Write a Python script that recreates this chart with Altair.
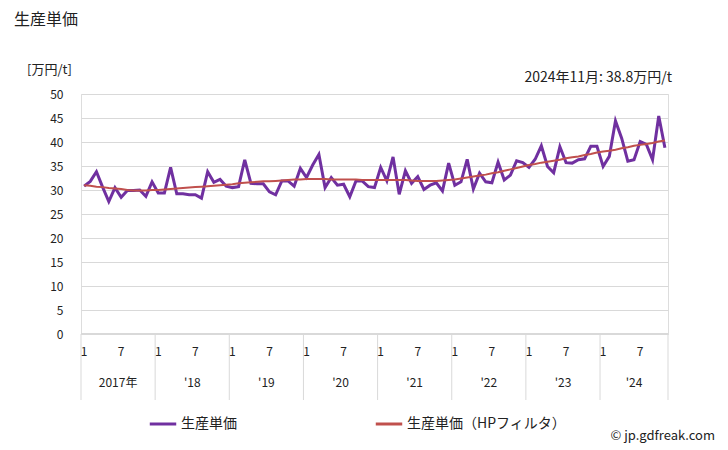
import altair as alt
import pandas as pd

# ---- data (Jan 2017 .. Nov 2024, monthly) ----
years = [2017, 2018, 2019, 2020, 2021, 2022, 2023, 2024]
year_labels = ["2017年", "'18", "'19", "'20", "'21", "'22", "'23", "'24"]
months_in_year = [12, 12, 12, 12, 12, 12, 12, 11]

price = [
    30.8, 31.8, 33.8, 30.6, 27.6, 30.5, 28.5, 29.9, 29.9, 30.0, 28.7, 31.7,   # 2017
    29.4, 29.4, 34.7, 29.2, 29.2, 29.0, 29.0, 28.3, 33.8, 31.6, 32.2, 30.8,   # 2018
    30.5, 30.7, 36.3, 31.4, 31.3, 31.3, 29.6, 29.0, 31.9, 31.9, 30.8, 34.5,   # 2019
    32.6, 35.2, 37.4, 30.5, 32.6, 31.0, 31.2, 28.6, 31.9, 31.9, 30.7, 30.5,   # 2020
    34.7, 31.9, 36.9, 29.1, 34.0, 31.4, 32.8, 30.1, 31.0, 31.5, 29.8, 35.6,   # 2021
    31.0, 31.7, 36.4, 30.2, 33.5, 31.7, 31.5, 35.8, 32.1, 33.1, 36.1, 35.7,   # 2022
    34.7, 36.4, 39.2, 34.9, 33.6, 39.0, 35.7, 35.6, 36.3, 36.5, 39.1, 39.1,   # 2023
    34.9, 37.0, 44.4, 40.8, 36.0, 36.3, 40.1, 39.5, 36.3, 45.4, 38.8,         # 2024
]
trend = [
    31.0, 30.9, 30.7, 30.6, 30.4, 30.3, 30.2, 30.0, 29.9, 29.9, 29.9, 30.0,
    30.0, 30.1, 30.2, 30.3, 30.4, 30.5, 30.6, 30.7, 30.8, 30.9, 31.0, 31.1,
    31.2, 31.4, 31.5, 31.6, 31.7, 31.8, 31.8, 31.9, 32.0, 32.1, 32.2, 32.2,
    32.3, 32.3, 32.3, 32.3, 32.2, 32.2, 32.2, 32.2, 32.2, 32.1, 32.1, 32.1,
    32.1, 32.1, 32.1, 32.1, 32.1, 32.0, 31.9, 31.9, 31.9, 31.9, 32.0, 32.1,
    32.2, 32.4, 32.6, 32.8, 33.0, 33.2, 33.5, 33.7, 34.0, 34.3, 34.6, 34.9,
    35.2, 35.4, 35.7, 35.9, 36.1, 36.3, 36.6, 36.8, 37.0, 37.3, 37.5, 37.8,
    38.0, 38.2, 38.4, 38.7, 38.9, 39.2, 39.4, 39.6, 39.8, 40.1, 40.3,
]
series_names = ["生産単価", "生産単価（HPフィルタ）"]
series_colors = ["#7030A0", "#C0504D"]
y_ticks = [0, 5, 10, 15, 20, 25, 30, 35, 40, 45, 50]
annotation = "2024年11月: 38.8万円/t"

FONT = "Noto Sans CJK JP"

# ---- build tables ----
idx = list(range(len(price)))
df_price = pd.DataFrame({"i": idx, "v": price, "s": series_names[0]})
df_trend = pd.DataFrame({"i": idx, "v": trend, "s": series_names[1]})

month_rows = []
year_rows = []
sep_rows = []
start = 0
for y, lab, n in zip(years, year_labels, months_in_year):
    for m in (1, 7):
        if m <= n:
            month_rows.append({"i": start + m - 1, "t": str(m)})
    year_rows.append({"c": start + (n - 1) / 2, "t": lab})
    sep_rows.append({"b": start - 0.5})
    start += n
sep_rows.append({"b": start - 0.5})
df_month = pd.DataFrame(month_rows)
df_year = pd.DataFrame(year_rows)
df_sep = pd.DataFrame(sep_rows)

W, H = 587, 240
xs = alt.Scale(domain=[-0.5, len(price) - 0.5], nice=False, zero=False)
ys = alt.Scale(domain=[0, 50], nice=False)
cs = alt.Scale(domain=series_names, range=series_colors)

yaxis = alt.Axis(values=y_ticks, title=None, domain=False, ticks=False,
                 grid=True, gridColor="#d9d9d9", gridWidth=1,
                 labelFont=FONT, labelFontSize=12, labelColor="#222222",
                 labelPadding=18, labelOverlap=False)

legend = alt.Legend(title=None, orient="none", direction="horizontal",
                    legendX=67, legendY=315, symbolType="stroke",
                    symbolSize=700, symbolStrokeWidth=3,
                    labelFont=FONT, labelFontSize=14, labelColor="#222222",
                    labelLimit=400, columnPadding=132, labelOffset=3)

base_price = alt.Chart(df_price).mark_line(strokeWidth=3).encode(
    x=alt.X("i:Q", scale=xs, axis=None),
    y=alt.Y("v:Q", scale=ys, axis=yaxis),
    color=alt.Color("s:N", scale=cs, legend=legend),
)
base_trend = alt.Chart(df_trend).mark_line(strokeWidth=2).encode(
    x=alt.X("i:Q", scale=xs, axis=None),
    y=alt.Y("v:Q", scale=ys, axis=yaxis),
    color=alt.Color("s:N", scale=cs, legend=legend),
)

seps = alt.Chart(df_sep).mark_rule(color="#d9d9d9", strokeWidth=1).encode(
    x=alt.X("b:Q", scale=xs), y=alt.value(H), y2=alt.value(H + 66)
)
bottom = alt.Chart(df_sep).mark_rule(color="#d9d9d9", strokeWidth=1).encode(
    x=alt.value(0), x2=alt.value(W), y=alt.value(H)
)
mlabels = alt.Chart(df_month).mark_text(font=FONT, fontSize=12, color="#222222",
                                        baseline="middle").encode(
    x=alt.X("i:Q", scale=xs), y=alt.value(H + 18), text="t:N"
)
ylabels = alt.Chart(df_year).mark_text(font=FONT, fontSize=12, color="#222222",
                                       baseline="middle").encode(
    x=alt.X("c:Q", scale=xs), y=alt.value(H + 49), text="t:N"
)

one = pd.DataFrame({"k": [0]})
title = alt.Chart(one).mark_text(text="生産単価", font=FONT, fontSize=16, color="#222222",
                                 align="left", baseline="middle").encode(
    x=alt.value(-67), y=alt.value(-74))
unit = alt.Chart(one).mark_text(text="[万円/t]", font=FONT, fontSize=13, color="#222222",
                                align="left", baseline="middle").encode(
    x=alt.value(-54), y=alt.value(-24))
note = alt.Chart(one).mark_text(text=annotation, font=FONT, fontSize=14, color="#222222",
                                align="right", baseline="middle").encode(
    x=alt.value(591), y=alt.value(-16))
credit = alt.Chart(one).mark_text(text="© jp.gdfreak.com", font=FONT, fontSize=13,
                                  color="#222222", align="right", baseline="middle").encode(
    x=alt.value(634), y=alt.value(342))

chart = alt.layer(
    base_price, base_trend, seps, bottom, mlabels, ylabels, title, unit, note, credit
).resolve_scale(color="shared").properties(
    width=W, height=H,
    autosize=alt.AutoSizeParams(type="none"),
    padding={"left": 81, "top": 94, "right": 60, "bottom": 116},
).configure_view(stroke=None).configure(background="white")

chart.save("out.html", embed_options={"renderer": "svg", "actions": False})
